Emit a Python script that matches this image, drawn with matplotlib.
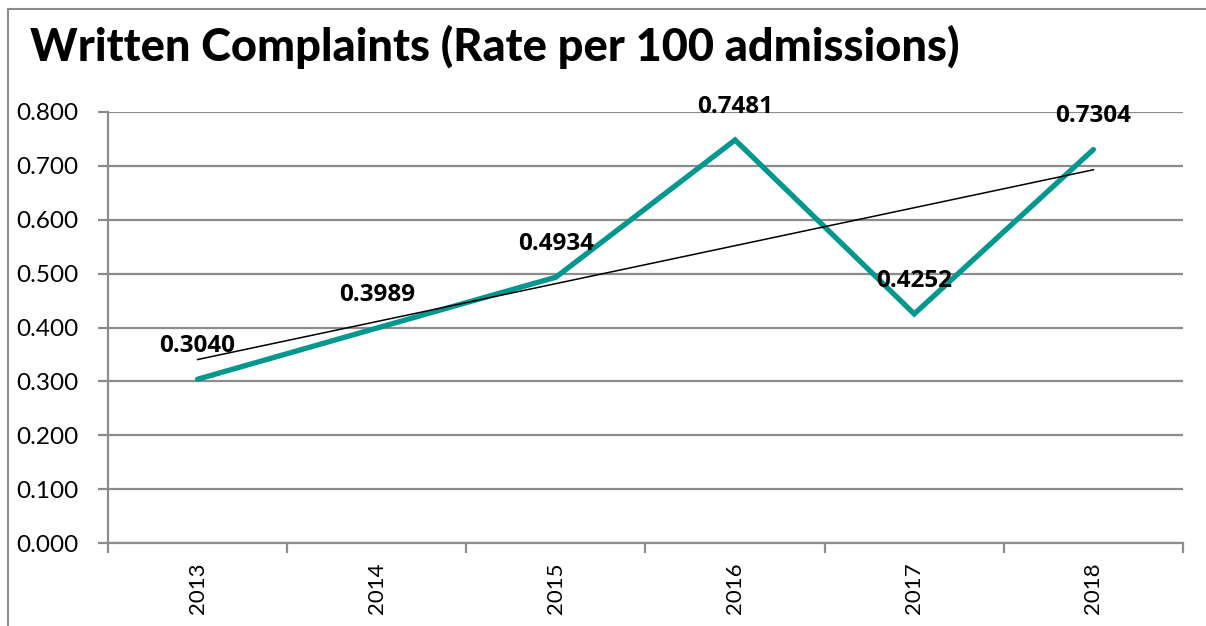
import numpy as np
import matplotlib.pyplot as plt
from matplotlib.lines import Line2D

years = ["2013", "2014", "2015", "2016", "2017", "2018"]
rates = [0.3040, 0.3989, 0.4934, 0.7481, 0.4252, 0.7304]
y_ticks = [0.0, 0.1, 0.2, 0.3, 0.4, 0.5, 0.6, 0.7, 0.8]

W, H = 1206, 626
fig = plt.figure(figsize=(W / 100, H / 100), dpi=100)
ax = fig.add_axes([108 / W, 1 - 543 / H, (1183 - 108) / W, (543 - 112) / H])

grey = "#8c8c8c"
x = np.arange(1, len(years) + 1)

# gridlines
for v in y_ticks:
    ax.axhline(v, color=grey, lw=1.6, zorder=0)

# main series
ax.plot(x, rates, color="#00978f", lw=3.8, solid_capstyle="round",
        solid_joinstyle="miter", zorder=3)

# linear trendline
k, b = np.polyfit(x, rates, 1)
ax.plot(x, k * x + b, color="black", lw=1.1, zorder=4)

# data labels
for xi, r in zip(x, rates):
    ax.annotate(f"{r:.4f}", (xi, r), xytext=(0, 24), textcoords="offset points",
                ha="center", va="center", fontsize=17.5, fontweight="bold",
                family="Open Sans", zorder=5)

ax.set_xlim(0.5, len(years) + 0.5)
ax.set_ylim(0, 0.8)
ax.set_yticks(y_ticks)
ax.set_yticklabels([f"{v:.3f}" for v in y_ticks], family="Lato", fontsize=17.5)
ax.set_xticks(x)
ax.set_xticklabels(years, rotation=90, family="Lato", fontsize=16)
ax.set_xticks(np.arange(0.5, len(years) + 1), minor=True)
ax.tick_params(axis="x", which="major", length=0, pad=14)
ax.tick_params(axis="x", which="minor", length=7, width=1.6, color=grey)
ax.tick_params(axis="y", length=7, width=1.6, color=grey, pad=14)

for s in ["top", "right"]:
    ax.spines[s].set_visible(False)
for s in ["left", "bottom"]:
    ax.spines[s].set_color(grey)
    ax.spines[s].set_linewidth(1.6)

fig.text(30 / W, 1 - 25 / H, "Written Complaints (Rate per 100 admissions)",
         family="Lato", fontweight="black", fontsize=32.5, va="top", ha="left")

# outer chart frame
fig.add_artist(Line2D([8 / W, 8 / W], [0, 1 - 9 / H], color=grey, lw=1.5))
fig.add_artist(Line2D([8 / W, 1], [1 - 9 / H, 1 - 9 / H], color=grey, lw=1.5))

fig.savefig("out.png", dpi=100, facecolor="white")
